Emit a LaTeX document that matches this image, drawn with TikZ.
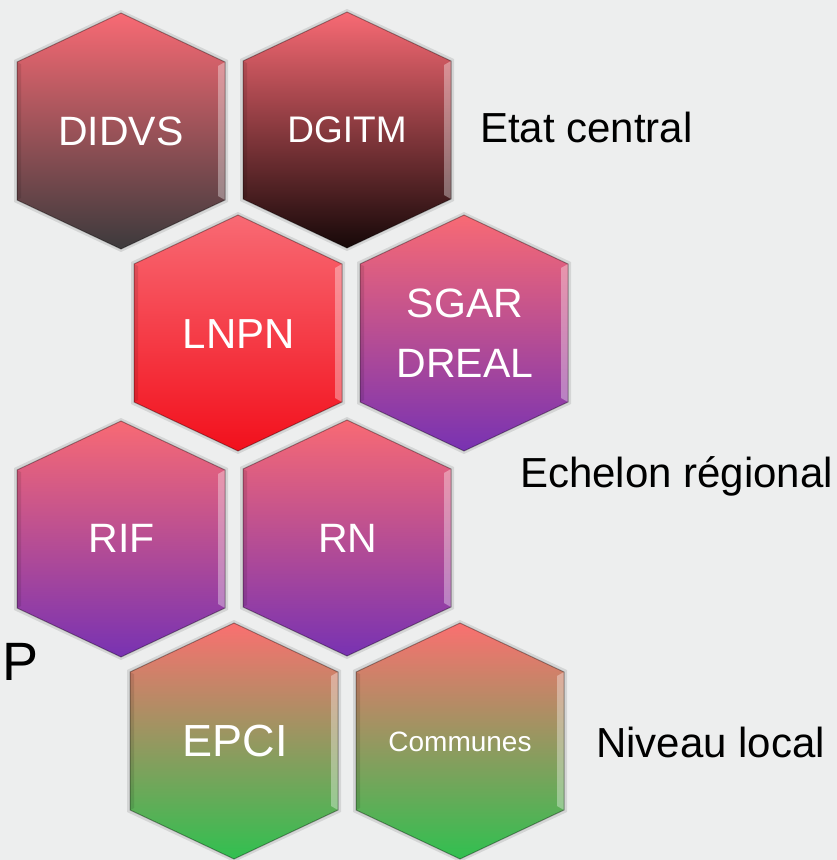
\documentclass[tikz,border=0pt]{standalone}
\usepackage{fontspec}
\setmainfont{Liberation Sans}
\usetikzlibrary{calc}
\definecolor{bg}{RGB}{237,238,238}
\definecolor{pinktop}{RGB}{248,106,116}
\definecolor{darkgray}{RGB}{60,58,60}
\definecolor{darkmid}{RGB}{160,80,88}
\definecolor{nearblack}{RGB}{22,8,8}
\definecolor{darkred}{RGB}{110,40,46}
\definecolor{brightred}{RGB}{242,16,28}
\definecolor{redmid}{RGB}{246,70,80}
\definecolor{purple}{RGB}{120,50,178}
\definecolor{purplemid}{RGB}{205,85,145}
\definecolor{salmon}{RGB}{250,112,112}
\definecolor{olive}{RGB}{172,150,98}
\definecolor{green}{RGB}{48,192,80}
\tikzset{
  x=1pt, y=-1pt,
  hexgray/.style={top color=pinktop, middle color=darkmid, bottom color=darkgray},
  hexblack/.style={top color=pinktop, middle color=darkred, bottom color=nearblack},
  hexred/.style={top color=pinktop, middle color=redmid, bottom color=brightred},
  hexpurple/.style={top color=pinktop, middle color=purplemid, bottom color=purple},
  hexgreen/.style={top color=salmon, middle color=olive, bottom color=green},
  hexlab/.style={text=white, font=\fontsize{41}{60}\selectfont, align=center, inner sep=0pt},
  sidelab/.style={font=\fontsize{42}{50}\selectfont, anchor=base west, inner sep=0pt},
}
\newcommand{\hexshape}[3]{%
  \begin{scope}[shift={(#1,#2)}]
    \fill[black, opacity=0.10] (0,-121) -- (107,-71) -- (107,71) -- (0,121) -- (-107,71) -- (-107,-71) -- cycle;
    \shade[#3] (0,-118) -- (104,-69) -- (104,69) -- (0,118) -- (-104,69) -- (-104,-69) -- cycle;
    \fill[white, opacity=0.35] (104,-69) -- (104,69) -- (97,65) -- (97,-65) -- cycle;
    \fill[black, opacity=0.10] (-104,-69) -- (-104,69) -- (-100,67) -- (-100,-67) -- cycle;
    \draw[black, opacity=0.35, line width=1pt] (0,-118) -- (104,-69) -- (104,69) -- (0,118) -- (-104,69) -- (-104,-69) -- cycle;
  \end{scope}}
\begin{document}
\begin{tikzpicture}
\fill[bg] (0,0) rectangle (837,860);
\useasboundingbox (0,0) rectangle (837,860);

\hexshape{121}{131}{hexgray}
\hexshape{347}{130}{hexblack}
\hexshape{238}{333}{hexred}
\hexshape{464}{333}{hexpurple}
\hexshape{121}{539}{hexpurple}
\hexshape{347}{538}{hexpurple}
\hexshape{234}{741}{hexgreen}
\hexshape{460}{741}{hexgreen}

\node[hexlab] (didvs) at (121,131) {DIDVS};
\node[hexlab, font=\fontsize{37}{44}\selectfont] (dgitm) at (347,130) {DGITM};
\node[hexlab, font=\fontsize{42}{50}\selectfont] (lnpn) at (239,334) {LNPN};
\node[hexlab] (sgar) at (465,333) {SGAR\\DREAL};
\node[hexlab] (rif) at (122,538) {RIF};
\node[hexlab] (rn) at (348,538) {RN};
\node[hexlab, font=\fontsize{45}{54}\selectfont] (epci) at (235,741) {EPCI};
\node[hexlab, font=\fontsize{28}{34}\selectfont] (communes) at (460,742) {Communes};

\node[sidelab] (etat) at (480,142) {Etat central};
\node[sidelab] (echelon) at (520,487) {Echelon régional};
\node[sidelab] (niveau) at (596,757) {Niveau local};
\node[sidelab, font=\fontsize{54}{60}\selectfont] (p) at (2,680) {P};
\end{tikzpicture}
\end{document}
